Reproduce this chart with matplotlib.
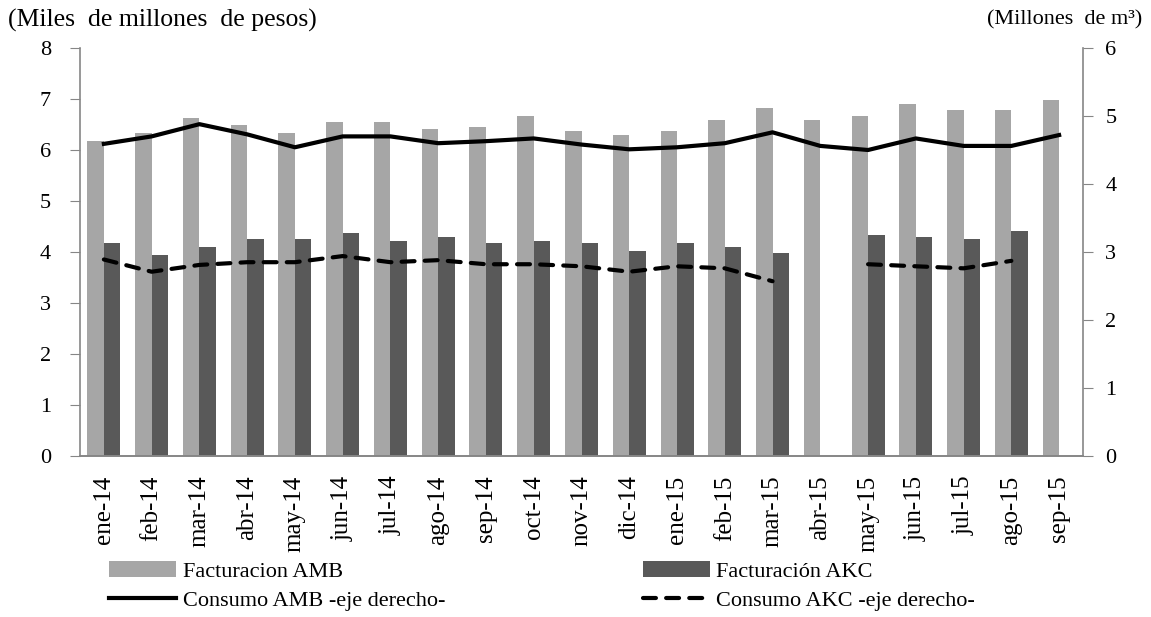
import matplotlib
matplotlib.use('Agg')
import matplotlib.pyplot as plt
import numpy as np

months = ['ene-14', 'feb-14', 'mar-14', 'abr-14', 'may-14', 'jun-14', 'jul-14',
          'ago-14', 'sep-14', 'oct-14', 'nov-14', 'dic-14', 'ene-15', 'feb-15',
          'mar-15', 'abr-15', 'may-15', 'jun-15', 'jul-15', 'ago-15', 'sep-15']
fact_amb = [6.18, 6.33, 6.62, 6.50, 6.33, 6.54, 6.54, 6.42, 6.46, 6.66, 6.38,
            6.30, 6.38, 6.58, 6.82, 6.58, 6.66, 6.90, 6.78, 6.78, 6.98]
fact_akc = [4.18, 3.94, 4.10, 4.26, 4.26, 4.38, 4.22, 4.30, 4.18, 4.22, 4.18,
            4.02, 4.18, 4.10, 3.98, np.nan, 4.34, 4.30, 4.26, 4.42, np.nan]
cons_amb = [4.59, 4.70, 4.88, 4.73, 4.54, 4.70, 4.70, 4.60, 4.63, 4.67, 4.58,
            4.51, 4.54, 4.60, 4.76, 4.56, 4.50, 4.67, 4.56, 4.56, 4.72]
cons_akc = [2.89, 2.71, 2.81, 2.85, 2.85, 2.94, 2.85, 2.88, 2.82, 2.82, 2.79,
            2.71, 2.79, 2.76, 2.57, np.nan, 2.82, 2.79, 2.76, 2.87, np.nan]

LIGHT = '#A6A6A6'
DARK = '#595959'
AXIS = '#868686'

plt.rcParams['font.family'] = ['Liberation Serif', 'DejaVu Serif']
plt.rcParams['font.size'] = 16

fig = plt.figure(figsize=(11.51, 6.17), dpi=100)
ax = fig.add_axes([80 / 1151, 1 - 456 / 617, (1083 - 80) / 1151, (456 - 48) / 617])
ax2 = ax.twinx()

x = np.arange(len(months))
w = 0.345
ax.bar(x - w / 2, fact_amb, w, color=LIGHT, label='Facturacion AMB')
ax.bar(x + w / 2, fact_akc, w, color=DARK, label='Facturación AKC')

ax2.plot(x, cons_amb, color='black', lw=3.0, label='Consumo AMB -eje derecho-')
ax2.plot(x, cons_akc, color='black', lw=3.0, linestyle=(0, (3.1, 2.45)),
         dash_capstyle='round', label='Consumo AKC -eje derecho-')

ax.set_xlim(-0.5, len(months) - 0.5)
ax.set_ylim(0, 8)
ax2.set_ylim(0, 6)
ax.set_yticks(range(0, 9))
ax2.set_yticks(range(0, 7))
ax.set_xticks(x)
ax.set_xticklabels(months, rotation=90, fontsize=18)
ax.tick_params(axis='x', length=0, pad=14)
ax.tick_params(axis='y', length=7, color=AXIS, pad=14)
ax2.tick_params(axis='y', length=7, color=AXIS, pad=9)

for a in (ax, ax2):
    a.spines['top'].set_visible(False)
    for s in ('left', 'right', 'bottom'):
        a.spines[s].set_color(AXIS)
        a.spines[s].set_linewidth(1.2)
ax.spines['right'].set_visible(False)
ax2.spines['left'].set_visible(False)

fig.text(8 / 1151, 1 - 20 / 617, '(Miles  de millones  de pesos)', ha='left', va='center',
         fontsize=18.5)
fig.text(1142 / 1151, 1 - 20 / 617, '(Millones  de m³)', ha='right', va='center')

h1, l1 = ax.get_legend_handles_labels()
h2, l2 = ax2.get_legend_handles_labels()
handles = [h1[0], h2[0], h1[1], h2[1]]
labels = [l1[0], l2[0], l1[1], l2[1]]
fig.legend(handles, labels, ncol=2, loc='upper left',
           bbox_to_anchor=(105 / 1151, 1 - 557 / 617), frameon=False,
           handlelength=3.0, handletextpad=0.3, columnspacing=8.9,
           labelspacing=0.37, borderpad=0.2, borderaxespad=0)

fig.savefig('out.png', dpi=100)
